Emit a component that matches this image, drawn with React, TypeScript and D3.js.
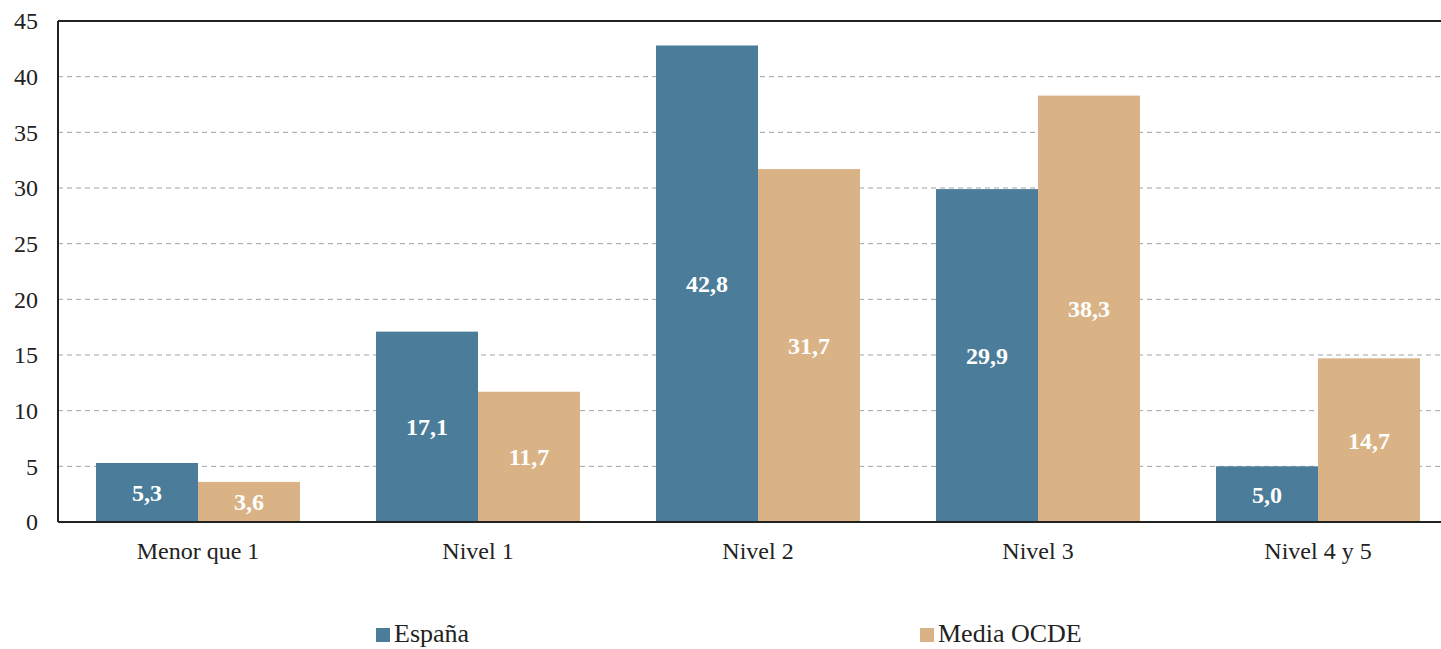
import React from 'react';
import * as d3 from 'd3';

const categories = ['Menor que 1', 'Nivel 1', 'Nivel 2', 'Nivel 3', 'Nivel 4 y 5'];
const espana = [5.3, 17.1, 42.8, 29.9, 5.0];
const ocde = [3.6, 11.7, 31.7, 38.3, 14.7];
const seriesNames = ['España', 'Media OCDE'];
const seriesColors = ['#4b7c99', '#d9b386'];
const yTicks = [0, 5, 10, 15, 20, 25, 30, 35, 40, 45];

const W = 1441;
const H = 649;
const left = 58;
const right = 1458;
const top = 21;
const bottom = 522;

const App = () => {
  const x = d3.scaleBand<string>().domain(categories).range([left, right]).paddingInner(0).paddingOuter(0);
  const inner = d3.scaleBand<string>().domain(seriesNames).range([38, x.bandwidth() - 38]);
  const y = d3.scaleLinear().domain([0, 45]).range([bottom, top]);
  const fmt = (v: number) => v.toFixed(1).replace('.', ',');
  const series = [espana, ocde];

  return (
    <svg width={W} height={H} style={{ position: 'absolute', left: 0, top: 0, background: '#fff' }}
      fontFamily="'Liberation Serif', 'Times New Roman', serif">
      {yTicks.filter((t) => t > 0 && t < 45).map((t) => (
        <line key={t} x1={left} x2={right} y1={y(t)} y2={y(t)} stroke="#9ea3b0" strokeWidth={1} strokeDasharray="5,4" />
      ))}
      {categories.map((c, i) =>
        series.map((s, j) => {
          const bx = (x(c) as number) + (inner(seriesNames[j]) as number);
          const bw = inner.bandwidth();
          return (
            <g key={c + j}>
              <rect x={bx} y={y(s[i])} width={bw} height={bottom - y(s[i])} fill={seriesColors[j]} />
              <text x={bx + bw / 2} y={(y(s[i]) + bottom) / 2} dy="0.35em" textAnchor="middle"
                fill="#fff" fontWeight="bold" fontSize={24}>{fmt(s[i])}</text>
            </g>
          );
        })
      )}
      <line x1={left} x2={right} y1={top} y2={top} stroke="#222" strokeWidth={2} />
      <line x1={left} x2={left} y1={top} y2={bottom} stroke="#222" strokeWidth={2} />
      <line x1={left} x2={right} y1={bottom} y2={bottom} stroke="#222" strokeWidth={2} />
      {yTicks.map((t) => (
        <text key={t} x={38} y={y(t)} dy="0.35em" textAnchor="end" fontSize={24} fill="#222">{t}</text>
      ))}
      {categories.map((c) => (
        <text key={c} x={(x(c) as number) + x.bandwidth() / 2} y={559} textAnchor="middle" fontSize={24} fill="#222">{c}</text>
      ))}
      {seriesNames.map((n, j) => {
        const lx = j === 0 ? 376 : 920;
        return (
          <g key={n}>
            <rect x={lx} y={628} width={14} height={14} fill={seriesColors[j]} />
            <text x={lx + 18} y={642} fontSize={26} fill="#222">{n}</text>
          </g>
        );
      })}
    </svg>
  );
};

export default App;
